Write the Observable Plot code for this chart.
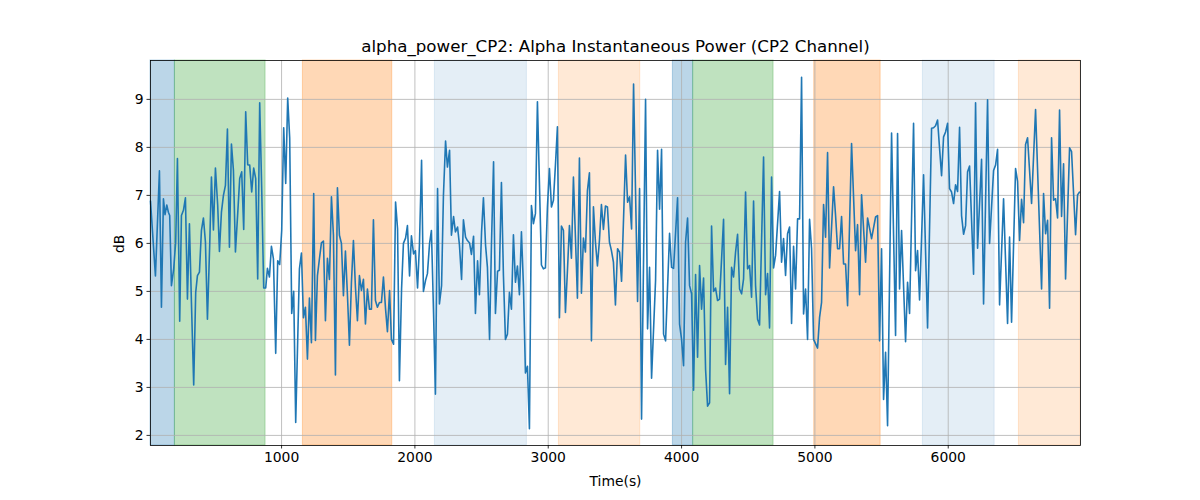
<!DOCTYPE html>
<html>
<head>
<meta charset="utf-8">
<script src="https://cdn.jsdelivr.net/npm/d3@7"></script>
<script src="https://cdn.jsdelivr.net/npm/@observablehq/plot@0.6"></script>
<style>
  html, body { margin: 0; padding: 0; background: white; }
  #chart { width: 1200px; height: 500px; }
</style>
</head>
<body>
<div id="chart"></div>
<script>
const titleText = "alpha_power_CP2: Alpha Instantaneous Power (CP2 Channel)";
const xLabel = "Time(s)";
const yLabel = "dB";
const xTicks = [1000, 2000, 3000, 4000, 5000, 6000];
const yTicks = [2, 3, 4, 5, 6, 7, 8, 9];

// shaded periods
const bandStart = [17, 200, 1160, 2150, 3080, 3935, 4087, 4995, 5810, 6530];
const bandEnd   = [200, 880, 1830, 2840, 3690, 4087, 4690, 5493, 6348, 6992];
const bandKind  = ["blue", "green", "orange", "lightblue", "lightorange", "blue", "green", "orange", "lightblue", "lightorange"];

// series
const times = [
  17,54,84,99,114,126,139,151,161,174,191,206,219,236,249,264,279,294,309,324,341,356,369,384,399,414,429,444,461,474,489,504,521,534,549,564,579,594,609,624,639,654,671,686,701,716,731,746,761,776,791,806,821,836,851,866,881,
  894,909,924,939,956,971,986,1001,1016,1031,1046,1061,1076,1091,1106,1134,1149,1164,1179,1194,1209,1224,1241,1254,1269,1284,1299,1314,1329,1344,1359,1374,1389,1404,1419,1434,1449,1464,1479,1494,1509,1524,1539,1554,1569,1584,1599,1614,1629,1644,1659,1674,1689,1704,1719,1734,1749,1764,
  1780,1794,1810,1824,1840,1855,1870,1884,1900,1914,1930,1944,1960,1974,1990,2004,2020,2034,2050,2064,2080,2094,2110,2124,2140,2154,2170,2184,2200,2214,2230,2244,2260,2274,2290,2304,2320,2334,2350,2364,2380,2394,2410,2424,2440,2454,2470,2484,2500,2514,2530,2544,2560,2574,2590,2604,2620,2634,2649,
  2664,2679,2694,2709,2724,2739,2754,2769,2784,2799,2814,2829,2844,2859,2874,2889,2904,2919,2934,2949,2964,2979,2994,3009,3024,3039,3054,3069,3084,3099,3114,3129,3144,3159,3174,3189,3204,3219,3234,3249,3264,3279,3294,3309,3324,3339,3354,3369,3384,3399,3414,3429,3444,3459,3474,3489,3504,
  3520,3535,3550,3580,3595,3610,3625,3640,3670,3685,3700,3730,3745,3760,3775,3805,3820,3835,3850,3865,3880,3910,3925,3940,3970,3985,4000,4015,4030,4045,4060,4075,4090,4105,4120,4135,4150,4165,4180,4195,4210,4225,4240,4255,4270,4285,4315,4330,4345,4360,4375,4390,4405,
  4420,4435,4450,4465,4480,4495,4510,4525,4540,4555,4570,4585,4615,4630,4645,4660,4675,4690,4705,4735,4750,4765,4780,4795,4810,4825,4840,4855,4870,4885,4900,4915,4930,4945,4960,4975,4990,5020,5035,5050,5065,5080,5095,5110,5140,5155,5170,5185,5200,5215,5230,5245,
  5275,5305,5320,5335,5350,5380,5395,5425,5455,5470,5485,5500,5515,5530,5545,5575,5605,5620,5635,5650,5680,5695,5710,5740,5755,5770,5785,5815,5845,5875,5890,5905,5920,5935,5950,5965,5980,5995,6010,6025,6040,6055,6070,6085,6100,6115,6130,6145,
  6160,6190,6205,6220,6250,6265,6295,6310,6340,6355,6370,6385,6415,6445,6460,6475,6505,6520,6535,6550,6565,6580,6595,6625,6655,6700,6715,6730,6745,6760,6775,6790,6805,6820,6835,6850,6865,6880,6910,6925,6955,6970,6985
];
const values = [
  6.88,5.32,7.51,4.67,6.93,6.6,6.8,6.65,6.58,5.12,5.47,6.03,7.77,4.38,6.58,6.69,6.95,4.84,6.41,4.77,3.05,4.98,5.33,5.4,6.27,6.53,6.03,4.42,5.96,7.38,6.28,7.57,6.79,5.83,6.65,7.0,7.21,8.38,5.92,8.07,7.52,5.82,6.62,7.35,7.49,6.29,8.74,7.64,7.63,7.07,7.57,7.35,5.26,8.93,7.14,5.07,5.07,
  5.48,5.3,5.94,5.68,3.71,5.64,5.56,6.27,8.41,7.25,9.03,8.19,4.54,5.0,2.27,5.47,5.8,4.45,4.67,3.59,4.86,3.93,7.04,3.98,5.33,5.68,6.01,6.05,4.39,5.69,5.25,6.97,6.17,3.26,7.16,6.17,6.0,4.91,5.84,4.93,3.88,5.19,6.06,5.09,4.39,5.33,5.02,5.25,4.32,5.05,4.63,4.63,6.49,4.81,4.67,4.77,4.77,5.3,
  4.63,4.16,5.02,4.0,3.9,6.86,6.3,3.14,5.05,6.0,6.11,6.37,5.32,6.16,5.78,5.85,5.07,5.96,7.73,5.0,5.23,5.37,6.0,6.27,4.53,2.86,7.14,4.74,5.12,7.0,8.13,7.59,7.94,6.17,6.56,6.24,6.34,5.97,5.25,6.49,6.13,6.06,6.01,5.77,6.15,4.54,5.64,4.93,6.24,6.95,5.96,5.5,4.0,5.96,7.7,4.54,5.42,5.44,7.27,
  5.33,4.0,4.11,4.98,4.63,6.18,5.19,5.53,4.93,6.24,5.12,3.3,3.44,2.14,6.79,6.41,6.62,8.95,7.25,5.55,5.47,5.49,6.76,7.56,6.76,6.9,7.63,8.43,4.45,6.36,6.27,4.56,5.43,6.37,5.69,7.38,6.13,4.86,7.78,4.96,6.11,5.82,7.1,7.47,3.97,6.76,6.03,5.53,6.06,6.81,6.29,6.78,6.76,6.03,5.85,5.61,4.72,
  5.89,5.82,5.21,7.84,6.86,6.97,6.3,9.32,4.79,7.14,2.34,9.0,4.22,5.5,3.19,5.23,7.94,6.71,7.96,4.11,3.97,6.21,5.5,5.48,6.95,4.32,4.0,3.45,6.03,6.53,5.12,4.95,2.94,5.35,3.63,5.54,4.63,5.28,3.38,2.61,2.68,6.36,5.0,5.07,4.81,4.84,6.5,3.48,4.67,2.87,5.5,5.3,5.82,
  6.19,5.05,4.95,5.26,7.07,5.47,5.54,4.88,6.88,5.12,4.42,4.3,7.8,4.93,5.37,4.24,7.38,5.49,5.75,7.08,5.61,6.1,5.33,6.2,6.34,4.33,5.94,5.05,6.51,6.51,9.46,4.53,5.05,4.0,6.5,5.89,4.0,3.82,4.46,4.77,6.81,6.13,7.89,5.49,7.18,6.58,5.89,5.89,6.56,5.57,5.57,4.7,
  8.08,5.85,6.39,4.93,7.01,5.61,6.53,6.1,6.55,6.58,3.97,5.89,2.75,3.73,2.2,8.3,4.08,8.29,5.05,6.27,3.95,5.19,4.54,8.5,5.43,5.85,4.82,7.43,4.24,8.4,8.41,8.45,8.57,7.98,7.41,8.22,8.32,8.5,7.14,7.07,6.83,7.22,7.08,8.42,6.58,6.19,6.37,7.49,
  7.61,5.36,8.93,5.9,7.75,4.74,8.99,6.0,7.52,7.63,7.96,4.72,6.93,4.33,6.13,4.36,7.56,7.29,6.06,6.92,6.43,8.06,8.2,6.83,8.79,5.05,7.04,6.2,6.48,4.65,8.2,6.9,6.93,6.53,8.78,6.56,7.66,5.26,7.99,7.91,6.18,7.01,7.07
];

const kindColor = {
  blue: "rgba(31,119,180,0.3)",
  green: "rgba(44,160,44,0.3)",
  orange: "rgba(255,127,14,0.3)",
  lightblue: "rgba(31,119,180,0.12)",
  lightorange: "rgba(255,127,14,0.17)"
};

const bands = bandStart.map((s, i) => ({start: s, end: bandEnd[i], kind: bandKind[i]}));
const series = times.map((t, i) => ({t, v: values[i]}));

const chart = Plot.plot({
  width: 1200,
  height: 500,
  marginLeft: 150,
  marginRight: 120,
  marginTop: 60,
  marginBottom: 55,
  style: {fontFamily: "'DejaVu Sans', sans-serif", fontSize: "13.9px", color: "black", background: "white"},
  x: {domain: [17, 6992]},
  y: {domain: [1.79, 9.81]},
  color: {type: "identity"},
  marks: [
    Plot.rect(bands, {x1: "start", x2: "end", fill: d => kindColor[d.kind], stroke: d => kindColor[d.kind], strokeWidth: 1}),
    Plot.gridX(xTicks, {stroke: "#b0b0b0", strokeOpacity: 1, strokeWidth: 0.8}),
    Plot.gridY(yTicks, {stroke: "#b0b0b0", strokeOpacity: 1, strokeWidth: 0.8}),
    Plot.line(series, {x: "t", y: "v", stroke: "#1f77b4", strokeWidth: 1.6, strokeLinejoin: "round"}),
    Plot.frame({stroke: "black", strokeWidth: 0.8}),
    Plot.axisX(xTicks, {tickSize: 3.5, tickPadding: 3.5, tickFormat: d => String(d), label: null, stroke: "black", strokeWidth: 0.8}),
    Plot.axisY(yTicks, {tickSize: 3.5, tickPadding: 3.5, tickFormat: d => String(d), label: null, stroke: "black", strokeWidth: 0.8}),
    Plot.text([titleText], {frameAnchor: "top", lineAnchor: "middle", dy: -14, fontSize: 16.67, fill: "black"}),
    Plot.text([xLabel], {frameAnchor: "bottom", lineAnchor: "middle", dy: 36, fill: "black"}),
    Plot.text([yLabel], {frameAnchor: "left", lineAnchor: "middle", dx: -31, rotate: -90, fill: "black"})
  ]
});
document.getElementById("chart").appendChild(chart);
</script>
</body>
</html>
